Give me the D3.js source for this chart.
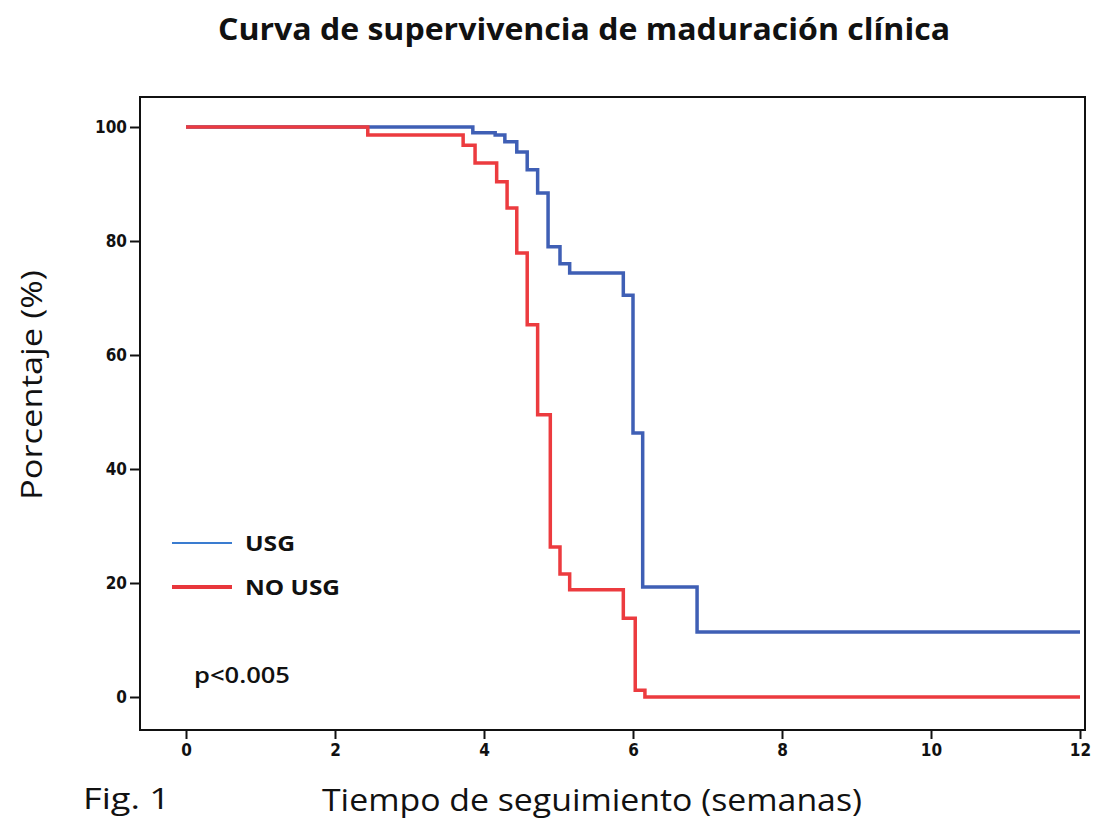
<!DOCTYPE html>
<html>
<head>
<meta charset="utf-8">
<script src="https://cdn.jsdelivr.net/npm/d3@7"></script>
<style>
  body { margin: 0; background: #fff; }
  svg text { font-family: "Open Sans", "DejaVu Sans", sans-serif; fill: #111; }
</style>
</head>
<body>
<div id="chart"></div>
<script>
// Kaplan-Meier steps: [semanas, porcentaje]
const usgTimes  = [0, 3.85, 4.15, 4.28, 4.44, 4.58, 4.72, 4.86, 5.02, 5.15, 5.87, 6.0, 6.13, 6.86, 12];
const usgValues = [100, 99.0, 98.6, 97.4, 95.6, 92.5, 88.4, 79, 76, 74.4, 70.5, 46.3, 19.3, 11.4, 11.4];

const noUsgTimes  = [0, 2.44, 3.72, 3.88, 4.17, 4.31, 4.44, 4.58, 4.72, 4.89, 5.02, 5.15, 5.87, 6.03, 6.16, 12];
const noUsgValues = [100, 98.6, 96.8, 93.7, 90.4, 85.8, 77.9, 65.3, 49.5, 26.3, 21.6, 18.8, 13.8, 1.2, 0, 0];

const xTicks = [0, 2, 4, 6, 8, 10, 12];
const yTicks = [0, 20, 40, 60, 80, 100];

const width = 1095, height = 819;
const frame = {left: 140, right: 1085, top: 97, bottom: 730};

let svg = d3.select("#chart").append("svg")
    .attr("width", width)
    .attr("height", height);

let x = d3.scaleLinear().domain([0, 12]).range([186, 1080]);
let y = d3.scaleLinear().domain([0, 100]).range([697, 127]);

// plot frame
svg.append("rect")
    .attr("x", frame.left)
    .attr("y", frame.top)
    .attr("width", frame.right - frame.left)
    .attr("height", frame.bottom - frame.top)
    .attr("fill", "none")
    .attr("stroke", "#111")
    .attr("stroke-width", 2);

// axes
let yAxis = svg.append("g")
    .attr("transform", "translate(" + frame.left + ",0)")
    .call(d3.axisLeft(y).tickValues(yTicks).tickSize(10).tickPadding(3));
let xAxis = svg.append("g")
    .attr("transform", "translate(0," + frame.bottom + ")")
    .call(d3.axisBottom(x).tickValues(xTicks).tickSize(9).tickPadding(5));

[xAxis, yAxis].forEach(function(a) {
    a.select(".domain").remove();
    a.selectAll("line").attr("stroke", "#111").attr("stroke-width", 2);
    a.selectAll("text")
        .style("font-family", "'DejaVu Sans Condensed', 'DejaVu Sans', sans-serif")
        .style("font-size", "17px")
        .style("font-weight", "bold")
        .attr("fill", "#111");
});

// survival curves
let line = d3.line()
    .x(function(d) { return x(d[0]); })
    .y(function(d) { return y(d[1]); })
    .curve(d3.curveStepAfter);

svg.append("path")
    .datum(d3.zip(usgTimes, usgValues))
    .attr("d", line)
    .attr("fill", "none")
    .attr("stroke", "#3f5fb5")
    .attr("stroke-width", 3.5);

svg.append("path")
    .datum(d3.zip(noUsgTimes, noUsgValues))
    .attr("d", line)
    .attr("fill", "none")
    .attr("stroke", "#ec3b3f")
    .attr("stroke-width", 3.5);

// legend
let legend = svg.append("g");
legend.append("line")
    .attr("x1", 172).attr("x2", 232).attr("y1", 543).attr("y2", 543)
    .attr("stroke", "#3a7cd0").attr("stroke-width", 2);
legend.append("text")
    .attr("x", 245).attr("y", 551)
    .style("font-size", "22px").style("font-weight", "bold")
    .attr("textLength", 50).attr("lengthAdjust", "spacingAndGlyphs")
    .text("USG");
legend.append("line")
    .attr("x1", 172).attr("x2", 232).attr("y1", 587).attr("y2", 587)
    .attr("stroke", "#e8363b").attr("stroke-width", 4);
legend.append("text")
    .attr("x", 245).attr("y", 595)
    .style("font-size", "22px").style("font-weight", "bold")
    .attr("textLength", 95).attr("lengthAdjust", "spacingAndGlyphs")
    .text("NO USG");

svg.append("text")
    .attr("x", 194).attr("y", 683)
    .style("font-size", "21px").style("font-weight", "600")
    .attr("textLength", 96).attr("lengthAdjust", "spacingAndGlyphs")
    .text("p<0.005");

// titles
svg.append("text")
    .attr("x", 218).attr("y", 40)
    .style("font-size", "30px").style("font-weight", "bold")
    .attr("textLength", 732).attr("lengthAdjust", "spacingAndGlyphs")
    .text("Curva de supervivencia de maduración clínica");

svg.append("text")
    .attr("transform", "translate(42,500) rotate(-90)")
    .style("font-size", "30px")
    .attr("textLength", 230).attr("lengthAdjust", "spacingAndGlyphs")
    .text("Porcentaje (%)");

svg.append("text")
    .attr("x", 322).attr("y", 811)
    .style("font-size", "31px")
    .attr("textLength", 540).attr("lengthAdjust", "spacingAndGlyphs")
    .text("Tiempo de seguimiento (semanas)");

svg.append("text")
    .attr("x", 83).attr("y", 809)
    .style("font-size", "30px")
    .attr("textLength", 87).attr("lengthAdjust", "spacingAndGlyphs")
    .text("Fig. 1");
</script>
</body>
</html>
